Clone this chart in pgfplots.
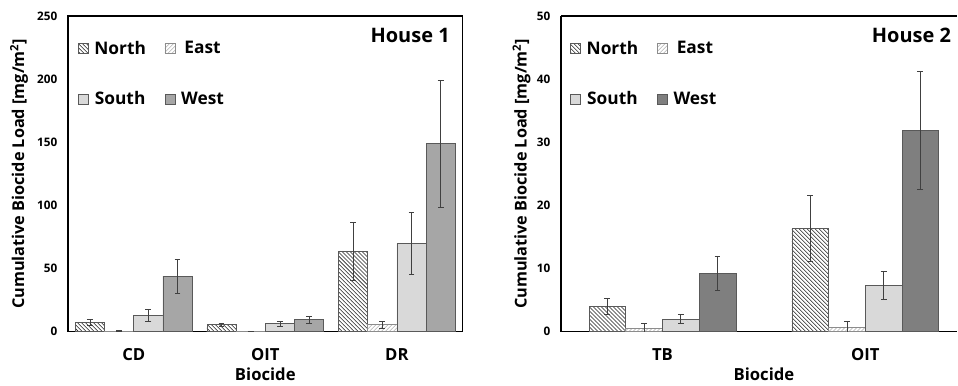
\documentclass[border=0pt]{standalone}
\usepackage{fontspec}
\setmainfont{Open Sans}
\usepackage{pgfplots}
\pgfplotsset{compat=1.18}
\usetikzlibrary{patterns}
\definecolor{southc}{HTML}{D9D9D9}
\definecolor{west1}{HTML}{A6A6A6}
\definecolor{west2}{HTML}{7F7F7F}
\definecolor{edgec}{HTML}{595959}
\pgfplotsset{
  common/.style={
    scale only axis, anchor=south west,
    ybar=0pt, ymin=0,
    axis line style={line width=1.1pt, black},
    major tick length=0pt, minor tick length=0pt,
    xtick={0,1,2},
    /pgf/number format/assume math mode=true,
    tick label style={font=\fontsize{8.8}{10}\selectfont\bfseries},
    yticklabel style={xshift=-4.5pt},
    xticklabel style={font=\fontsize{12.5}{14}\selectfont\bfseries, yshift=-9pt},
    xlabel={Biocide},
    xlabel style={font=\fontsize{12.5}{14}\selectfont\bfseries, at={(axis description cs:0.5,0)}, anchor=north, yshift=-23.5pt},
    ylabel={Cumulative Biocide Load [mg/m\textsuperscript{2}]},
    ylabel style={font=\fontsize{12.2}{14}\selectfont\bfseries, rotate=0, anchor=center},
    every axis plot/.append style={draw=edgec, line width=0.5pt,
      error bars/y dir=both, error bars/y explicit,
      error bars/error bar style={line width=0.5pt, draw=black!75},
      error bars/error mark options={rotate=90, mark size=2.2pt, line width=0.5pt, draw=black!75}},
    legend columns=2,
    legend style={draw=none, fill=none, inner sep=0pt, anchor=north west, row sep=22.5pt,
      font=\fontsize{13}{15}\selectfont\bfseries,
      /tikz/every odd column/.append style={column sep=2.5pt},
      /tikz/every even column/.append style={column sep=12pt}},
    legend image code/.code={\draw[#1, line width=0.5pt] (0pt,-3.75pt) rectangle (7.5pt,3.75pt);},
  },
  northS/.style={fill=white, postaction={pattern=north west lines, pattern color=black!85}},
  eastS/.style={fill=white, draw=black!45, postaction={pattern=north east lines, pattern color=black!30}},
  southS/.style={fill=southc},
}
\begin{document}
\begin{tikzpicture}
\path (0pt,0pt) rectangle (718.5pt,282.75pt);
% ---------- House 1 ----------
\begin{axis}[common, at={(51pt,33.75pt)}, width=296.25pt, height=237pt,
  bar width=0.222, xmin=-0.5, xmax=2.5, ymax=250, ytick={0,50,...,250},
  xticklabels={CD,OIT,DR},
  ylabel style={at={(axis description cs:-0.124,0.5)}},
  legend style={at={(axis description cs:0.024,0.93)}}]
\addplot[northS] coordinates {(0,7.6) +- (0,2.5) (1,5.5) +- (0,1.5) (2,63.5) +- (0,23)};
\addplot[eastS] coordinates {(0,0.5) +- (0,0.3) (1,0.2) +- (0,0.1) (2,5.5) +- (0,2.7)};
\addplot[southS] coordinates {(0,12.9) +- (0,4.5) (1,6.6) +- (0,2) (2,69.8) +- (0,24.4)};
\addplot[fill=west1] coordinates {(0,44) +- (0,13.7) (1,9.5) +- (0,2.5) (2,148.8) +- (0,50.2)};
\legend{North,East,South,West}
\node[anchor=north east, inner sep=0pt, font=\fontsize{15}{17}\selectfont\bfseries] at ([xshift=-9.5pt,yshift=-9pt]rel axis cs:1,1) {House 1};
\end{axis}
% ---------- House 2 (cut at the right edge) ----------
\begin{axis}[common, at={(421.1pt,33.75pt)}, width=297.4pt, height=237pt,
  axis x line*=box, axis y line*=left, y axis line style={-},
  bar width=0.181, xmin=-0.5, xmax=1.4534, ymax=50, ytick={0,10,...,50},
  xtick={0,1}, xticklabels={TB,OIT},
  xlabel style={at={(axis description cs:0.512,0)}},
  ylabel style={at={(axis description cs:-0.0995,0.5)}},
  legend style={at={(axis description cs:0.022,0.93)}}]
\addplot[northS] coordinates {(0,4.0) +- (0,1.3) (1,16.4) +- (0,5.2)};
\addplot[eastS] coordinates {(0,0.5) +- (0,0.9) (1,0.75) +- (0,0.95)};
\addplot[southS] coordinates {(0,2.0) +- (0,0.7) (1,7.35) +- (0,2.2)};
\addplot[fill=west2] coordinates {(0,9.3) +- (0,2.7) (1,31.9) +- (0,9.3)};
\legend{North,East,South,West}
\node[anchor=north east, inner sep=0pt, font=\fontsize{15}{17}\selectfont\bfseries] at ([xshift=-4.5pt,yshift=-9pt]rel axis cs:1,1) {House 2};
\end{axis}
\end{tikzpicture}
\end{document}
